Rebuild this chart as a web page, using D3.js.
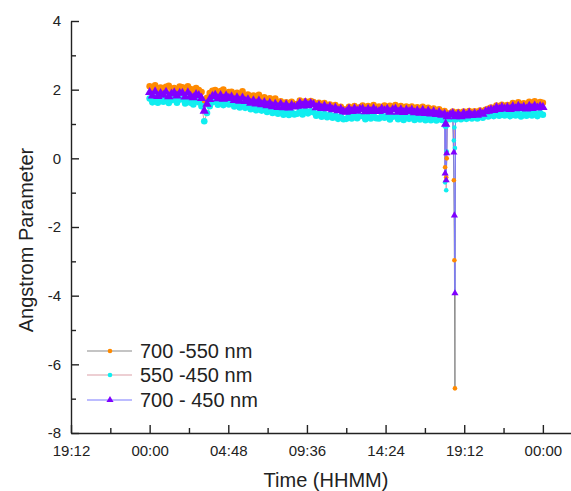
<!DOCTYPE html>
<html>
<head>
<meta charset="utf-8">
<script src="https://cdn.jsdelivr.net/npm/d3@7"></script>
<style>
  body { margin: 0; background: #fff; }
  svg { display: block; font-family: "Liberation Sans", Arial, sans-serif; }
</style>
</head>
<body>
<script>
// readings every 10 minutes, 00:00 -> 00:00 next day (145 per series)
const a700_550 = [
  2.10, 2.00, 2.13, 1.97, 2.06, 1.96,  2.08, 2.11, 1.98, 2.05, 1.95, 2.09,
  2.07, 1.94, 2.10, 2.02, 1.93, 2.05,  1.99, 1.93, 1.60, 1.76, 1.90, 1.97,
  1.99, 1.86, 1.96, 2.00, 1.87, 1.93,  1.94, 1.82, 1.91, 1.85, 1.95, 1.80,
  1.86, 1.75, 1.83, 1.77, 1.85, 1.72,  1.78, 1.66, 1.75, 1.69, 1.74, 1.62,
  1.66, 1.55, 1.63, 1.57, 1.65, 1.58,  1.58, 1.68, 1.60, 1.66, 1.56, 1.67,
  1.64, 1.55, 1.62, 1.53, 1.61, 1.52,  1.57, 1.49, 1.55, 1.46, 1.50, 1.43,
  1.42, 1.50, 1.44, 1.52, 1.45, 1.49,  1.54, 1.45, 1.52, 1.47, 1.55, 1.46,
  1.51, 1.45, 1.54, 1.48, 1.53, 1.44,  1.55, 1.47, 1.52, 1.43, 1.51, 1.46,
  1.51, 1.42, 1.49, 1.44, 1.50, 1.41,  1.47, 1.39, 1.45, 1.37, 1.43, 1.35,
  1.38, 1.31, 1.28, 1.36, 1.30, 1.35,  1.28, 1.36, 1.31, 1.38, 1.29, 1.37,
  1.32, 1.39, 1.34, 1.41, 1.44, 1.48,  1.45, 1.54, 1.49, 1.56, 1.50, 1.55,
  1.53, 1.61, 1.55, 1.63, 1.56, 1.60,  1.57, 1.65, 1.59, 1.66, 1.60, 1.64,
  1.62
];
const a550_450 = [
  1.74, 1.63, 1.76, 1.62, 1.70, 1.65,  1.75, 1.61, 1.69, 1.73, 1.62, 1.71,
  1.72, 1.60, 1.73, 1.62, 1.57, 1.67,  1.63, 1.52, 1.08, 1.32, 1.52, 1.63,
  1.67, 1.56, 1.65, 1.55, 1.63, 1.57,  1.61, 1.51, 1.59, 1.48, 1.57, 1.47,
  1.53, 1.43, 1.50, 1.40, 1.48, 1.39,  1.45, 1.35, 1.42, 1.32, 1.39, 1.30,
  1.37, 1.27, 1.35, 1.26, 1.34, 1.28,  1.30, 1.38, 1.28, 1.39, 1.31, 1.37,
  1.34, 1.24, 1.31, 1.21, 1.29, 1.20,  1.27, 1.18, 1.24, 1.15, 1.22, 1.14,
  1.15, 1.24, 1.16, 1.25, 1.17, 1.23,  1.23, 1.14, 1.22, 1.16, 1.25, 1.17,
  1.16, 1.24, 1.18, 1.23, 1.13, 1.21,  1.24, 1.14, 1.21, 1.12, 1.20, 1.15,
  1.21, 1.12, 1.19, 1.13, 1.20, 1.11,  1.20, 1.11, 1.18, 1.10, 1.17, 1.12,
  1.12, 1.19, 1.14, 1.22, 1.13, 1.20,  1.14, 1.22, 1.15, 1.23, 1.16, 1.21,
  1.16, 1.24, 1.18, 1.25, 1.22, 1.28,  1.23, 1.31, 1.24, 1.32, 1.25, 1.30,
  1.23, 1.31, 1.25, 1.30, 1.22, 1.30,  1.24, 1.32, 1.25, 1.31, 1.23, 1.32,
  1.27
];
const a700_450 = [
  1.92, 1.82, 1.94, 1.81, 1.89, 1.84,  1.93, 1.80, 1.88, 1.91, 1.82, 1.90,
  1.90, 1.79, 1.91, 1.81, 1.77, 1.86,  1.83, 1.75, 1.38, 1.58, 1.72, 1.81,
  1.84, 1.74, 1.83, 1.73, 1.82, 1.75,  1.79, 1.69, 1.77, 1.67, 1.76, 1.66,
  1.71, 1.61, 1.68, 1.59, 1.67, 1.57,  1.63, 1.54, 1.61, 1.51, 1.58, 1.49,
  1.58, 1.48, 1.56, 1.47, 1.55, 1.50,  1.52, 1.61, 1.53, 1.62, 1.54, 1.60,
  1.57, 1.48, 1.54, 1.46, 1.53, 1.45,  1.50, 1.42, 1.47, 1.39, 1.43, 1.36,
  1.35, 1.44, 1.37, 1.45, 1.38, 1.43,  1.44, 1.36, 1.43, 1.37, 1.45, 1.38,
  1.37, 1.44, 1.39, 1.43, 1.35, 1.42,  1.44, 1.35, 1.42, 1.34, 1.41, 1.36,
  1.41, 1.33, 1.39, 1.32, 1.40, 1.31,  1.38, 1.30, 1.36, 1.28, 1.34, 1.26,
  1.29, 1.22, 1.27, 1.31, 1.22, 1.29,  1.22, 1.31, 1.24, 1.32, 1.25, 1.30,
  1.26, 1.34, 1.29, 1.36, 1.38, 1.42,  1.40, 1.48, 1.43, 1.49, 1.44, 1.48,
  1.43, 1.51, 1.45, 1.52, 1.46, 1.50,  1.44, 1.52, 1.46, 1.53, 1.47, 1.51,
  1.49
];

// the sudden drops around 18:00 - 18:40 (minutes after 00:00)
const dropMinutes = [1082, 1084, 1086, 1088, 1114, 1116, 1118];
const drop700_550 = [-0.26, 1.10, -0.55, 0.00, -0.64, -2.97, -6.70];
const drop550_450 = [-0.70, 0.95, -0.93, 0.20, 0.52, 0.90, 0.30];
const drop700_450 = [-0.44, 1.00, -0.64, 0.15, 0.17, -1.66, -3.93];

const seriesNames = ["700 -550 nm", "550 -450 nm", "700 - 450 nm"];
const xTickMinutes = [-288, 0, 288, 576, 864, 1152, 1440];
const xTickLabels = ["19:12", "00:00", "04:48", "09:36", "14:24", "19:12", "00:00"];
const xMinorMinutes = [-144, 144, 432, 720, 1008, 1296];
const yTicks = [-8, -6, -4, -2, 0, 2, 4];
const yMinorTicks = [-7, -5, -3, -1, 1, 3];

const W = 571, H = 491;
const svg = d3.select("body").append("svg").attr("width", W).attr("height", H);

const x = d3.scaleLinear().domain([-288, 1543]).range([71, 571]);
const y = d3.scaleLinear().domain([-8, 4]).range([433, 21]);

function build(regular, drops) {
  const pts = regular.map((v, i) => ({ t: i * 10, v: v }));
  drops.forEach((v, i) => pts.push({ t: dropMinutes[i], v: v }));
  pts.sort((a, b) => a.t - b.t);
  return pts;
}

const series = [
  { name: seriesNames[0], pts: build(a700_550, drop700_550), line: "#8a8a8a", fill: "#ff8a00", shape: "circle" },
  { name: seriesNames[1], pts: build(a550_450, drop550_450), line: "#dca0a8", fill: "#10eef0", shape: "circle" },
  { name: seriesNames[2], pts: build(a700_450, drop700_450), line: "#7a7aff", fill: "#8000ff", shape: "tri" }
];

const lineGen = d3.line().x(d => x(d.t)).y(d => y(d.v));
const triBig = d3.symbol().type(d3.symbolTriangle).size(38);
const triSmall = d3.symbol().type(d3.symbolTriangle).size(22);

function drawMarker(sel, s, big) {
  if (s.shape === "tri") {
    sel.append("path").attr("d", big ? triBig : triSmall).attr("fill", s.fill);
  } else {
    sel.append("circle").attr("r", big ? 3.3 : 2.3).attr("fill", s.fill);
  }
}

const plot = svg.append("g");
// connecting lines first, symbols on top
series.forEach(s => {
  plot.append("path").datum(s.pts).attr("d", lineGen)
    .attr("fill", "none").attr("stroke", s.line).attr("stroke-width", 1);
});
series.forEach(s => {
  plot.append("g").selectAll("g").data(s.pts).enter().append("g")
    .attr("transform", d => `translate(${x(d.t)},${y(d.v)})`)
    .each(function (d) { drawMarker(d3.select(this), s, d.v > 0.9); });
});

// axes with inward ticks
svg.append("g").attr("transform", "translate(71,0)")
  .call(d3.axisLeft(y).tickValues(yTicks).tickSize(-8).tickSizeOuter(0).tickPadding(10)
    .tickFormat(d => d));
svg.append("g").attr("transform", "translate(71,0)")
  .call(d3.axisLeft(y).tickValues(yMinorTicks).tickSize(-5).tickSizeOuter(0).tickFormat(""))
  .select(".domain").remove();

svg.append("g").attr("transform", "translate(0,433)")
  .call(d3.axisBottom(x).tickValues(xTickMinutes).tickSize(-8).tickSizeOuter(0).tickPadding(12)
    .tickFormat((d, i) => xTickLabels[i]));
svg.append("g").attr("transform", "translate(0,433)")
  .call(d3.axisBottom(x).tickValues(xMinorMinutes).tickSize(-5).tickSizeOuter(0).tickFormat(""))
  .select(".domain").remove();

svg.selectAll(".domain, .tick line").attr("stroke", "#222").attr("stroke-width", 1.4);
svg.selectAll(".tick text").attr("font-size", 15).attr("fill", "#222")
  .attr("font-family", "'Liberation Sans', Arial, sans-serif");

svg.append("text").attr("transform", "translate(33,240) rotate(-90)")
  .attr("text-anchor", "middle").attr("font-size", 20).attr("fill", "#222")
  .text("Angstrom Parameter");
svg.append("text").attr("x", 326).attr("y", 487)
  .attr("text-anchor", "middle").attr("font-size", 20).attr("fill", "#222")
  .text("Time (HHMM)");

// legend
const legendRows = [351, 375, 400];
series.forEach((s, i) => {
  const g = svg.append("g").attr("transform", `translate(0,${legendRows[i]})`);
  g.append("line").attr("x1", 87).attr("x2", 132).attr("y1", 0).attr("y2", 0)
    .attr("stroke", s.line).attr("stroke-width", 1.2);
  drawMarker(g.append("g").attr("transform", "translate(110,0)"), s, false);
  g.append("text").attr("x", 140).attr("dy", "0.36em")
    .attr("font-size", 20).attr("fill", "#222").text(s.name);
});
</script>
</body>
</html>
